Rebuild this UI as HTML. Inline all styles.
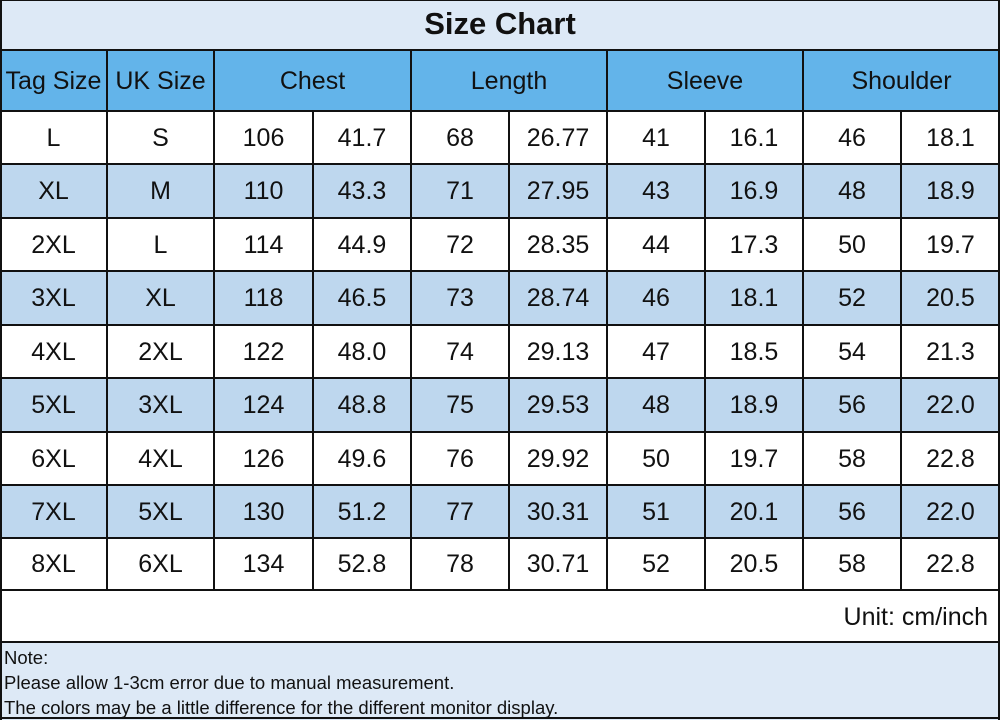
<!DOCTYPE html>
<html><head><style>
body{margin:0;width:1000px;height:720px;position:relative;overflow:hidden;background:#fff;font-family:"Liberation Sans","DejaVu Sans",sans-serif;color:#111}
.b{position:absolute;left:0;width:1000px}
.h{position:absolute;height:2px;background:#111}
.v{position:absolute;width:2px;background:#111}
.t{position:absolute;text-align:center;font-size:25px;line-height:25px}
</style></head><body>
<div class="b" style="top:0;height:50px;background:#dde9f6"></div>
<div class="b" style="top:50px;height:61px;background:#63b4ea"></div>
<div class="b" style="top:164px;height:54px;background:#bed7ee"></div>
<div class="b" style="top:271px;height:54px;background:#bed7ee"></div>
<div class="b" style="top:378px;height:54px;background:#bed7ee"></div>
<div class="b" style="top:485px;height:53px;background:#bed7ee"></div>
<div class="b" style="top:642px;height:78px;background:#dde9f6"></div>
<div style="position:absolute;top:6px;left:0;width:1000px;text-align:center;font-size:31px;font-weight:bold">Size Chart</div>
<div id="g"></div>
<div style="position:absolute;top:603px;right:12px;font-size:25px">Unit: cm/inch</div>
<div style="position:absolute;top:645px;left:4px;font-size:18.5px;line-height:25px">Note:<br>Please allow 1-3cm error due to manual measurement.<br>The colors may be a little difference for the different monitor display.</div>
<script>
var g=document.getElementById('g'),h='';
var ys=[0,50,111,164,218,271,325,378,432,485,538,590,642,718];
ys.forEach(y=>h+='<div class="h" style="left:0;width:1000px;top:'+(y-1)+'px"></div>');
h+='<div class="v" style="left:0;top:0;height:720px"></div><div class="v" style="left:998px;top:0;height:720px"></div>';
var xs=[0,107,214,313,411,509,607,705,803,901,1000];
xs.slice(1,-1).forEach((x,i)=>{var top=(i%2==0&&i>=2)?111:50;h+='<div class="v" style="left:'+(x-1)+'px;top:'+top+'px;height:'+(590-top)+'px"></div>'});
var hd=[['Tag Size',0,107],['UK Size',107,214],['Chest',214,411],['Length',411,607],['Sleeve',607,803],['Shoulder',803,1000]];
hd.forEach(a=>h+='<div class="t" style="top:69px;left:'+a[1]+'px;width:'+(a[2]-a[1])+'px">'+a[0]+'</div>');
var d=[["L","S","106","41.7","68","26.77","41","16.1","46","18.1"],["XL","M","110","43.3","71","27.95","43","16.9","48","18.9"],["2XL","L","114","44.9","72","28.35","44","17.3","50","19.7"],["3XL","XL","118","46.5","73","28.74","46","18.1","52","20.5"],["4XL","2XL","122","48.0","74","29.13","47","18.5","54","21.3"],["5XL","3XL","124","48.8","75","29.53","48","18.9","56","22.0"],["6XL","4XL","126","49.6","76","29.92","50","19.7","58","22.8"],["7XL","5XL","130","51.2","77","30.31","51","20.1","56","22.0"],["8XL","6XL","134","52.8","78","30.71","52","20.5","58","22.8"]];
d.forEach((r,i)=>{var y=(ys[i+2]+ys[i+3])/2-12;r.forEach((c,j)=>h+='<div class="t" style="top:'+y+'px;left:'+xs[j]+'px;width:'+(xs[j+1]-xs[j])+'px">'+c+'</div>')});
g.innerHTML=h;
</script>
</body></html>
